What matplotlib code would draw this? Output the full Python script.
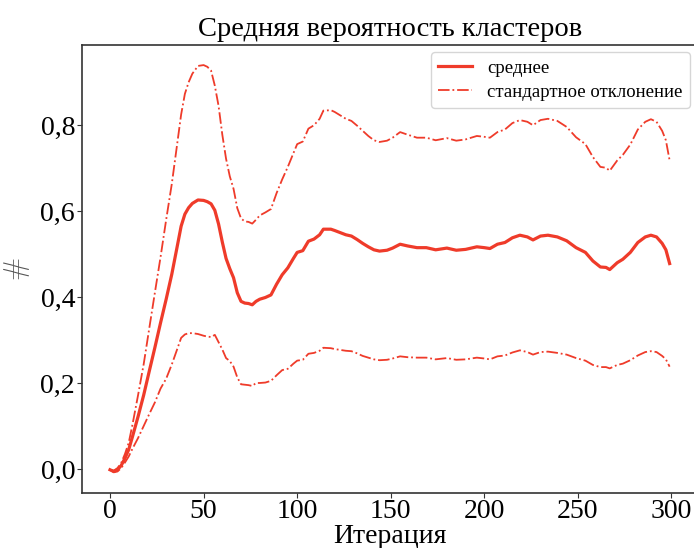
import matplotlib
matplotlib.use("Agg")
import matplotlib.pyplot as plt
import matplotlib.ticker as ticker
import numpy as np

iterations = [0, 2, 4, 6, 8, 10, 12, 15, 18, 21, 24, 27, 30, 33, 36, 38, 40, 42, 44, 47,
              50, 52, 54, 56, 58, 60, 62, 64, 66, 68, 70, 72, 74, 76, 78, 80, 83, 86, 89, 92,
              95, 98, 100, 103, 106, 109, 112, 114, 118, 120, 123, 126, 129, 132, 135, 138, 141, 144, 148, 151,
              155, 159, 164, 169, 174, 180, 185, 190, 196, 200, 203, 207, 211, 215, 219, 223, 226, 230, 234, 239,
              244, 249, 254, 258, 262, 265, 267, 271, 274, 278, 282, 286, 289, 292, 295, 297, 299]

# mean cluster probability
mean_vals = [-0.002, -0.006, -0.002, 0.008, 0.025, 0.045, 0.075, 0.122, 0.172, 0.228, 0.283, 0.34, 0.395, 0.453, 0.52, 0.565, 0.593, 0.608, 0.618, 0.626,
             0.625, 0.622, 0.617, 0.602, 0.57, 0.528, 0.49, 0.466, 0.445, 0.41, 0.39, 0.386, 0.385, 0.382, 0.39, 0.395, 0.399, 0.405, 0.43, 0.452,
             0.468, 0.49, 0.504, 0.508, 0.53, 0.535, 0.545, 0.558, 0.558, 0.555, 0.55, 0.545, 0.542, 0.534, 0.525, 0.517, 0.51, 0.507, 0.509, 0.514,
             0.523, 0.519, 0.515, 0.515, 0.51, 0.514, 0.509, 0.511, 0.517, 0.515, 0.513, 0.523, 0.527, 0.538, 0.544, 0.54, 0.533, 0.542, 0.544, 0.54,
             0.531, 0.515, 0.504, 0.484, 0.47, 0.469, 0.464, 0.48, 0.488, 0.504, 0.527, 0.54, 0.544, 0.54, 0.525, 0.51, 0.478]

# standard deviation
std_vals = [0.0, 0.002, 0.004, 0.006, 0.01, 0.016, 0.028, 0.05, 0.072, 0.1, 0.128, 0.153, 0.185, 0.21, 0.24, 0.26, 0.28, 0.292, 0.302, 0.312,
            0.315, 0.314, 0.31, 0.29, 0.275, 0.25, 0.232, 0.215, 0.207, 0.197, 0.193, 0.19, 0.19, 0.189, 0.19, 0.195, 0.198, 0.2, 0.212, 0.222,
            0.235, 0.245, 0.252, 0.254, 0.262, 0.265, 0.27, 0.276, 0.277, 0.276, 0.273, 0.27, 0.268, 0.265, 0.262, 0.258, 0.255, 0.254, 0.255, 0.257,
            0.261, 0.259, 0.256, 0.256, 0.255, 0.256, 0.255, 0.256, 0.258, 0.258, 0.258, 0.261, 0.263, 0.267, 0.268, 0.268, 0.267, 0.27, 0.271, 0.27,
            0.265, 0.257, 0.252, 0.242, 0.233, 0.232, 0.23, 0.238, 0.243, 0.251, 0.263, 0.268, 0.27, 0.268, 0.262, 0.255, 0.24]

x = np.array(iterations)
mean = np.array(mean_vals)
std = np.array(std_vals)

plt.rcParams['font.family'] = ['Liberation Serif', 'DejaVu Serif']
plt.rcParams['mathtext.fontset'] = 'cm'

red = '#ef3b2a'

fig = plt.figure(figsize=(6.94, 5.48), dpi=100)
ax = fig.add_axes([0.1182, 0.1009, 0.887, 0.8175])

ax.plot(x, mean, color=red, lw=2.3, label='среднее')
ax.plot(x, mean + std, color=red, lw=1.3, ls='-.', label='стандартное отклонение')
ax.plot(x, mean - std, color=red, lw=1.3, ls='-.')

ax.set_title('Средняя вероятность кластеров', fontsize=20.5)
ax.set_xlabel('Итерация', fontsize=20, labelpad=0)
ax.set_ylabel(r'$\#$', fontsize=20, color='#555555', labelpad=6)

ax.set_xticks([0, 50, 100, 150, 200, 250, 300])
ax.set_yticks([0.0, 0.2, 0.4, 0.6, 0.8])
ax.yaxis.set_major_formatter(ticker.FuncFormatter(lambda v, p: f"{v:.1f}".replace('.', ',')))
ax.tick_params(labelsize=20, color='#333333', pad=1.5)
ax.tick_params(axis='x', pad=1)

for s in ax.spines.values():
    s.set_color('#333333')
    s.set_linewidth(1.2)

ax.legend(loc='upper right', fontsize=13.5, handlelength=1.8, borderaxespad=0.4,
          labelspacing=0.35)

fig.savefig('out.png', dpi=100)
